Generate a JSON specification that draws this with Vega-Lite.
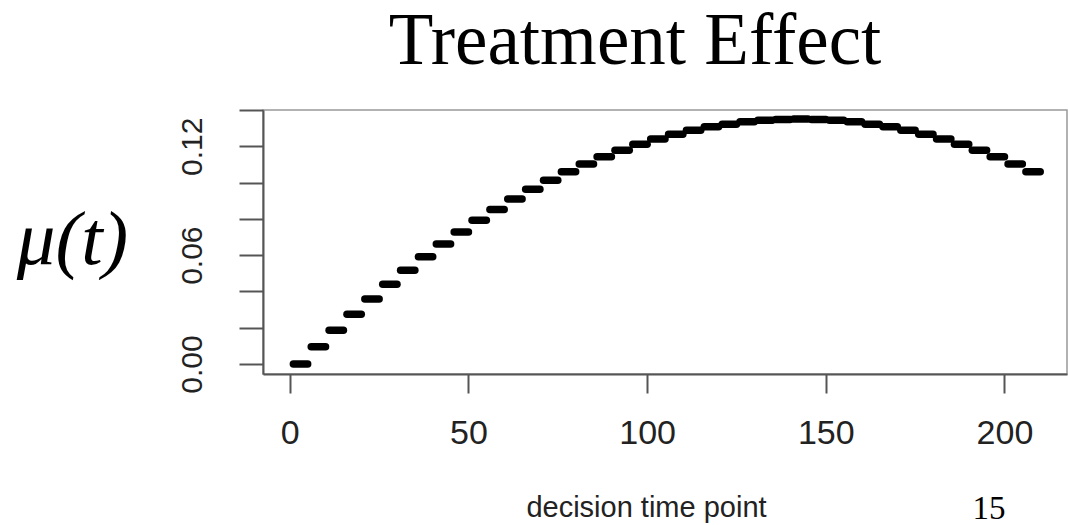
{
  "$schema": "https://vega.github.io/schema/vega-lite/v6.json",
  "width": 804,
  "height": 264,
  "autosize": {"type": "none"},
  "padding": {"left": 263, "top": 110, "right": 1, "bottom": 151},
  "background": "white",
  "title": {
    "text": "Treatment Effect",
    "font": "Liberation Serif",
    "fontSize": 73,
    "fontWeight": "normal",
    "color": "black",
    "anchor": "middle",
    "frame": "group",
    "offset": 30,
    "dx": -30
  },
  "config": {
    "view": {"stroke": "#999", "strokeWidth": 1.5},
    "axis": {"grid": false, "labelOverlap": false, "labelFlush": false}
  },
  "data": {
    "values": [
      {"day": 1, "start": 1, "end": 5, "mu": 0.0},
      {"day": 2, "start": 6, "end": 10, "mu": 0.0095},
      {"day": 3, "start": 11, "end": 15, "mu": 0.0186},
      {"day": 4, "start": 16, "end": 20, "mu": 0.0274},
      {"day": 5, "start": 21, "end": 25, "mu": 0.0358},
      {"day": 6, "start": 26, "end": 30, "mu": 0.0439},
      {"day": 7, "start": 31, "end": 35, "mu": 0.0517},
      {"day": 8, "start": 36, "end": 40, "mu": 0.0591},
      {"day": 9, "start": 41, "end": 45, "mu": 0.0661},
      {"day": 10, "start": 46, "end": 50, "mu": 0.0728},
      {"day": 11, "start": 51, "end": 55, "mu": 0.0792},
      {"day": 12, "start": 56, "end": 60, "mu": 0.0852},
      {"day": 13, "start": 61, "end": 65, "mu": 0.0909},
      {"day": 14, "start": 66, "end": 70, "mu": 0.0963},
      {"day": 15, "start": 71, "end": 75, "mu": 0.1013},
      {"day": 16, "start": 76, "end": 80, "mu": 0.1059},
      {"day": 17, "start": 81, "end": 85, "mu": 0.1102},
      {"day": 18, "start": 86, "end": 90, "mu": 0.1142},
      {"day": 19, "start": 91, "end": 95, "mu": 0.1178},
      {"day": 20, "start": 96, "end": 100, "mu": 0.1211},
      {"day": 21, "start": 101, "end": 105, "mu": 0.1240},
      {"day": 22, "start": 106, "end": 110, "mu": 0.1266},
      {"day": 23, "start": 111, "end": 115, "mu": 0.1288},
      {"day": 24, "start": 116, "end": 120, "mu": 0.1307},
      {"day": 25, "start": 121, "end": 125, "mu": 0.1322},
      {"day": 26, "start": 126, "end": 130, "mu": 0.1335},
      {"day": 27, "start": 131, "end": 135, "mu": 0.1343},
      {"day": 28, "start": 136, "end": 140, "mu": 0.1348},
      {"day": 29, "start": 141, "end": 145, "mu": 0.1350},
      {"day": 30, "start": 146, "end": 150, "mu": 0.1348},
      {"day": 31, "start": 151, "end": 155, "mu": 0.1343},
      {"day": 32, "start": 156, "end": 160, "mu": 0.1335},
      {"day": 33, "start": 161, "end": 165, "mu": 0.1322},
      {"day": 34, "start": 166, "end": 170, "mu": 0.1307},
      {"day": 35, "start": 171, "end": 175, "mu": 0.1288},
      {"day": 36, "start": 176, "end": 180, "mu": 0.1266},
      {"day": 37, "start": 181, "end": 185, "mu": 0.1240},
      {"day": 38, "start": 186, "end": 190, "mu": 0.1211},
      {"day": 39, "start": 191, "end": 195, "mu": 0.1178},
      {"day": 40, "start": 196, "end": 200, "mu": 0.1142},
      {"day": 41, "start": 201, "end": 205, "mu": 0.1102},
      {"day": 42, "start": 206, "end": 210, "mu": 0.1059}
    ]
  },
  "layer": [
    {
      "mark": {"type": "rule", "strokeWidth": 7.5, "strokeCap": "round", "color": "black"},
      "encoding": {
        "x": {
          "field": "start",
          "type": "quantitative",
          "scale": {"domain": [-7.5, 217.5], "nice": false, "zero": false},
          "axis": {
            "values": [0, 50, 100, 150, 200],
            "title": "decision time point",
            "titleFont": "Liberation Sans",
            "titleFontWeight": "normal",
            "titleFontSize": 29,
            "titleColor": "#222",
            "titleX": 383,
            "titleY": 142,
            "titleAlign": "center",
            "titleBaseline": "alphabetic",
            "labelFont": "Liberation Sans",
            "labelFontSize": 34,
            "labelColor": "#222",
            "labelBaseline": "alphabetic",
            "labelPadding": 50,
            "tickSize": 19,
            "tickColor": "#555",
            "tickWidth": 2,
            "domainColor": "#555",
            "domainWidth": 2
          }
        },
        "x2": {"field": "end"},
        "y": {
          "field": "mu",
          "type": "quantitative",
          "scale": {"domain": [-0.0055, 0.14], "nice": false, "zero": false},
          "axis": {
            "values": [0, 0.02, 0.04, 0.06, 0.08, 0.1, 0.12, 0.14],
            "format": ".2f",
            "labelExpr": "(datum.label == '0.00' || datum.label == '0.06' || datum.label == '0.12') ? datum.label : ''",
            "title": "μ(t)",
            "titleFont": "Liberation Serif",
            "titleFontStyle": "italic",
            "titleFontWeight": "normal",
            "titleFontSize": 77,
            "titleColor": "black",
            "titleAngle": 0,
            "titleAlign": "center",
            "titleBaseline": "alphabetic",
            "titleX": -191,
            "titleY": 153,
            "labelFont": "Liberation Sans",
            "labelFontSize": 30,
            "labelColor": "#222",
            "labelAngle": -90,
            "labelAlign": "center",
            "labelBaseline": "alphabetic",
            "labelPadding": 38,
            "tickSize": 24,
            "tickColor": "#555",
            "tickWidth": 2,
            "domainColor": "#555",
            "domainWidth": 2
          }
        }
      }
    },
    {
      "data": {"values": [{"label": "15"}]},
      "mark": {"type": "text", "font": "Liberation Serif", "fontSize": 33, "align": "center", "baseline": "alphabetic", "color": "black"},
      "encoding": {
        "text": {"field": "label"},
        "x": {
          "datum": 195.7,
          "axis": {
            "values": [0, 50, 100, 150, 200],
            "title": "decision time point",
            "titleFont": "Liberation Sans",
            "titleFontWeight": "normal",
            "titleFontSize": 29,
            "titleColor": "#222",
            "titleX": 383,
            "titleY": 142,
            "titleAlign": "center",
            "titleBaseline": "alphabetic",
            "labelFont": "Liberation Sans",
            "labelFontSize": 34,
            "labelColor": "#222",
            "labelBaseline": "alphabetic",
            "labelPadding": 50,
            "tickSize": 19,
            "tickColor": "#555",
            "tickWidth": 2,
            "domainColor": "#555",
            "domainWidth": 2
          }
        },
        "y": {
          "datum": -0.0855,
          "axis": {
            "values": [0, 0.02, 0.04, 0.06, 0.08, 0.1, 0.12, 0.14],
            "format": ".2f",
            "labelExpr": "(datum.label == '0.00' || datum.label == '0.06' || datum.label == '0.12') ? datum.label : ''",
            "title": "μ(t)",
            "titleFont": "Liberation Serif",
            "titleFontStyle": "italic",
            "titleFontWeight": "normal",
            "titleFontSize": 77,
            "titleColor": "black",
            "titleAngle": 0,
            "titleAlign": "center",
            "titleBaseline": "alphabetic",
            "titleX": -191,
            "titleY": 153,
            "labelFont": "Liberation Sans",
            "labelFontSize": 30,
            "labelColor": "#222",
            "labelAngle": -90,
            "labelAlign": "center",
            "labelBaseline": "alphabetic",
            "labelPadding": 38,
            "tickSize": 24,
            "tickColor": "#555",
            "tickWidth": 2,
            "domainColor": "#555",
            "domainWidth": 2
          }
        }
      }
    }
  ]
}
